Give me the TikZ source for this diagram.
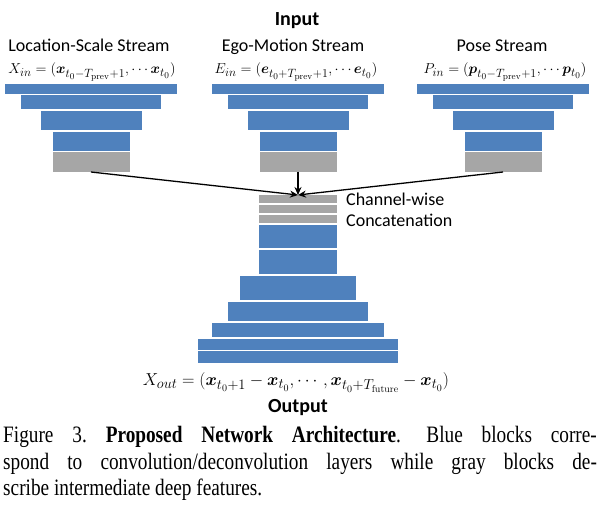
\documentclass[tikz,border=0pt]{standalone}
\usepackage{amsmath}
\usepackage{bm}
\usepackage[no-math]{fontspec}
\setmainfont{Liberation Serif}
\newfontfamily\carlito{Carlito}
\usetikzlibrary{arrows.meta}
\DeclareMathSizes{15}{15}{11.5}{9}
\DeclareMathSizes{17.5}{17.5}{13.3}{10.3}
\definecolor{blockblue}{RGB}{79,129,189}
\definecolor{blockgray}{RGB}{166,166,166}
\tikzset{
  blk/.style={fill=blockblue, draw=none, inner sep=0pt, outer sep=0pt},
  gblk/.style={fill=blockgray, draw=none, inner sep=0pt, outer sep=0pt},
  lbl/.style={font=\carlito\fontsize{18}{20}\selectfont, inner sep=0pt, anchor=base},
  ttl/.style={font=\carlito\bfseries\fontsize{20}{22}\selectfont, inner sep=0pt, anchor=base},
  frm/.style={font=\fontsize{15}{17}\selectfont, inner sep=0pt, anchor=base},
  frmo/.style={font=\fontsize{17.5}{19}\selectfont, inner sep=0pt, anchor=base},
  captxt/.style={font=\fontsize{23.5}{26}\selectfont\frenchspacing, inner sep=0pt, anchor=base west},
  conn/.style={-{Stealth[length=8pt,width=7pt]}, line width=1.3pt, black},
}
\newcommand{\stack}[2]{%
  \node[blk, minimum width=172pt, minimum height=10pt] (#1a) at (#2,89) {};
  \node[blk, minimum width=140pt, minimum height=14pt] (#1b) at (#2,102) {};
  \node[blk, minimum width=101pt, minimum height=19pt] (#1c) at (#2,120.5) {};
  \node[blk, minimum width=77pt, minimum height=19pt] (#1d) at (#2,141.5) {};
  \node[gblk, minimum width=77pt, minimum height=20pt] (#1g) at (#2,162) {};
}
\newcommand{\capline}[1]{\scalebox{0.82}[1]{\makebox[724pt][s]{#1}}}
\begin{document}
\begin{tikzpicture}[x=1pt,y=-1pt]
\useasboundingbox[fill=white] (0,0) rectangle (600,510);
% titles
\node[ttl] (input) at (297,26) {Input};
\node[lbl] (ls) at (89,52) {Location-Scale Stream};
\node[lbl] (em) at (293,52) {Ego-Motion Stream};
\node[lbl] (ps) at (502,52) {Pose Stream};
\node[frm] (fx) at (92,74) {$X_{in}=(\bm{x}_{t_0-T_{\mathrm{prev}}+1},\cdots \bm{x}_{t_0})$};
\node[frm] (fe) at (296,74) {$E_{in}=(\bm{e}_{t_0+T_{\mathrm{prev}}+1},\cdots \bm{e}_{t_0})$};
\node[frm] (fp) at (505,74) {$P_{in}=(\bm{p}_{t_0-T_{\mathrm{prev}}+1},\cdots \bm{p}_{t_0})$};
% input stacks
\stack{L}{91}
\stack{M}{298}
\stack{R}{503}
% center stack
\node[gblk, minimum width=78pt, minimum height=8pt] (c1) at (298,199) {};
\node[gblk, minimum width=78pt, minimum height=8pt] (c2) at (298,209) {};
\node[gblk, minimum width=78pt, minimum height=8pt] (c3) at (298,219) {};
\node[blk, minimum width=78pt, minimum height=23pt] (d1) at (298,236.5) {};
\node[blk, minimum width=78pt, minimum height=24pt] (d2) at (298,262) {};
\node[blk, minimum width=116pt, minimum height=24pt] (d3) at (298,288) {};
\node[blk, minimum width=140pt, minimum height=19pt] (d4) at (298,311.5) {};
\node[blk, minimum width=172pt, minimum height=14pt] (d5) at (298,330) {};
\node[blk, minimum width=200pt, minimum height=11pt] (d6) at (298,344.5) {};
\node[blk, minimum width=200pt, minimum height=12pt] (d7) at (298,357) {};
% connectors
\draw[conn] (Lg.south) -- (c1.north);
\draw[conn] (Mg.south) -- (c1.north);
\draw[conn] (Rg.south) -- (c1.north);
% concatenation label
\node[lbl, anchor=base west] (cw) at (346,206) {Channel-wise};
\node[lbl, anchor=base west] (cc) at (346,227) {Concatenation};
% output
\node[frmo] (fo) at (296,386) {$X_{out}=(\bm{x}_{t_0+1}-\bm{x}_{t_0},\cdots,\bm{x}_{t_0+T_{\mathrm{future}}}-\bm{x}_{t_0})$};
\node[ttl] (output) at (298,413) {Output};
% caption
\node[captxt] (cap1) at (3,443) {\capline{Figure 3. \textbf{Proposed Network Architecture}.\hspace{8pt} Blue blocks corre-}};
\node[captxt] (cap2) at (3,470) {\capline{spond to convolution/deconvolution layers while gray blocks de-}};
\node[captxt] (cap3) at (3,496) {\scalebox{0.82}[1]{scribe intermediate deep features.}};
\end{tikzpicture}
\end{document}
